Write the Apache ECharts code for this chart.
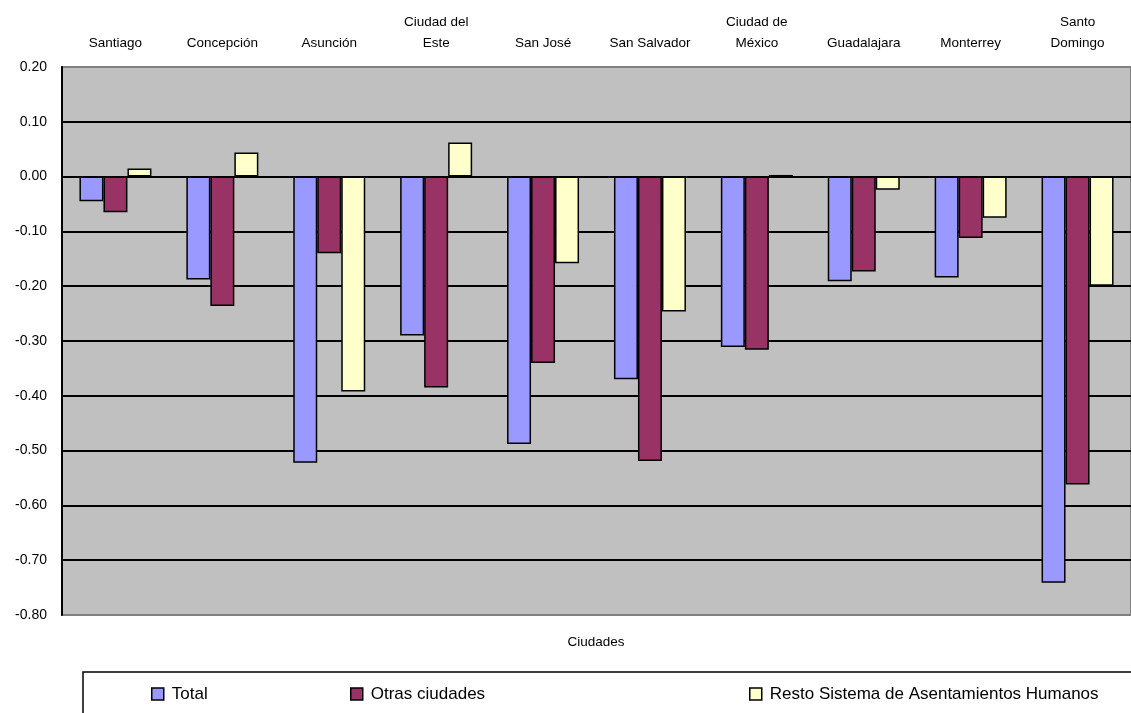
<!DOCTYPE html>
<html>
<head>
<meta charset="utf-8">
<script src="https://cdn.jsdelivr.net/npm/echarts@6/dist/echarts.min.js"></script>
<style>
  html, body { margin: 0; padding: 0; background: #ffffff; }
  #chart { width: 1131px; height: 713px; }
</style>
</head>
<body>
<div id="chart"></div>
<script>
// Cities along the top category axis
const ciudades = [
  'Santiago', 'Concepción', 'Asunción', 'Ciudad del\nEste', 'San José',
  'San Salvador', 'Ciudad de\nMéxico', 'Guadalajara', 'Monterrey', 'Santo\nDomingo'
];

// Series values per city
const total = [-0.045, -0.188, -0.522, -0.290, -0.488, -0.370, -0.311, -0.191, -0.184, -0.741];
const otrasCiudades = [-0.065, -0.236, -0.140, -0.385, -0.340, -0.519, -0.316, -0.173, -0.112, -0.562];
const restoSistema = [0.015, 0.044, -0.392, 0.062, -0.158, -0.246, 0.003, -0.024, -0.075, -0.199];

const seriesNames = ['Total', 'Otras ciudades', 'Resto Sistema de Asentamientos Humanos'];
const seriesColors = ['#9999FF', '#993366', '#FFFFCC'];

const FONT = '"Liberation Sans", Arial, sans-serif';

const chart = echarts.init(document.getElementById('chart'), null, { renderer: 'canvas' });

function barSeries(name, data, color) {
  return {
    name: name,
    type: 'bar',
    data: data,
    barWidth: 24,
    barGap: '0%',
    itemStyle: { color: color, borderColor: '#000000', borderWidth: 1.5 },
    emphasis: { disabled: true }
  };
}

function legendAt(name, left) {
  return {
    data: [name],
    left: left,
    top: 684,
    padding: 0,
    itemWidth: 12,
    itemHeight: 12,
    itemGap: 0,
    icon: 'rect',
    selectedMode: false,
    itemStyle: { borderColor: '#000000', borderWidth: 1.5 },
    textStyle: { fontFamily: FONT, fontSize: 17, color: '#000000', padding: [0, 0, 0, 3], lineHeight: 20 }
  };
}

chart.setOption({
  animation: false,
  backgroundColor: '#ffffff',
  title: {
    text: 'Ciudades',
    left: 596,
    top: 635,
    textAlign: 'center',
    padding: 0,
    textStyle: { fontFamily: FONT, fontSize: 13.5, fontWeight: 'normal', color: '#000000' }
  },
  legend: [
    legendAt(seriesNames[0], 151),
    legendAt(seriesNames[1], 350),
    legendAt(seriesNames[2], 749)
  ],
  graphic: [
    {
      type: 'rect',
      shape: { x: 83, y: 672, width: 1100, height: 80 },
      style: { fill: 'none', stroke: '#000000', lineWidth: 1.5 },
      z: 0, silent: true
    }
  ],
  grid: {
    left: 62,
    top: 67,
    right: -7,
    bottom: 98,
    show: true,
    backgroundColor: '#C0C0C0',
    borderColor: '#808080',
    borderWidth: 2
  },
  xAxis: {
    type: 'category',
    position: 'top',
    data: ciudades,
    axisLine: { show: false },
    axisTick: { show: false },
    axisLabel: {
      interval: 0,
      margin: 13,
      fontFamily: FONT,
      fontSize: 13.5,
      lineHeight: 21,
      color: '#000000'
    },
    splitLine: { show: false }
  },
  yAxis: {
    type: 'value',
    min: -0.8,
    max: 0.2,
    interval: 0.1,
    axisLine: { show: true, onZero: false, lineStyle: { color: '#000000', width: 2 } },
    axisTick: { show: false },
    axisLabel: {
      margin: 15,
      fontFamily: FONT,
      fontSize: 14,
      color: '#000000',
      formatter: function (v) { return v.toFixed(2); }
    },
    splitLine: {
      show: true,
      showMinLine: false,
      showMaxLine: false,
      lineStyle: { color: '#000000', width: 2 }
    }
  },
  series: [
    barSeries(seriesNames[0], total, seriesColors[0]),
    barSeries(seriesNames[1], otrasCiudades, seriesColors[1]),
    barSeries(seriesNames[2], restoSistema, seriesColors[2])
  ]
});
</script>
</body>
</html>
